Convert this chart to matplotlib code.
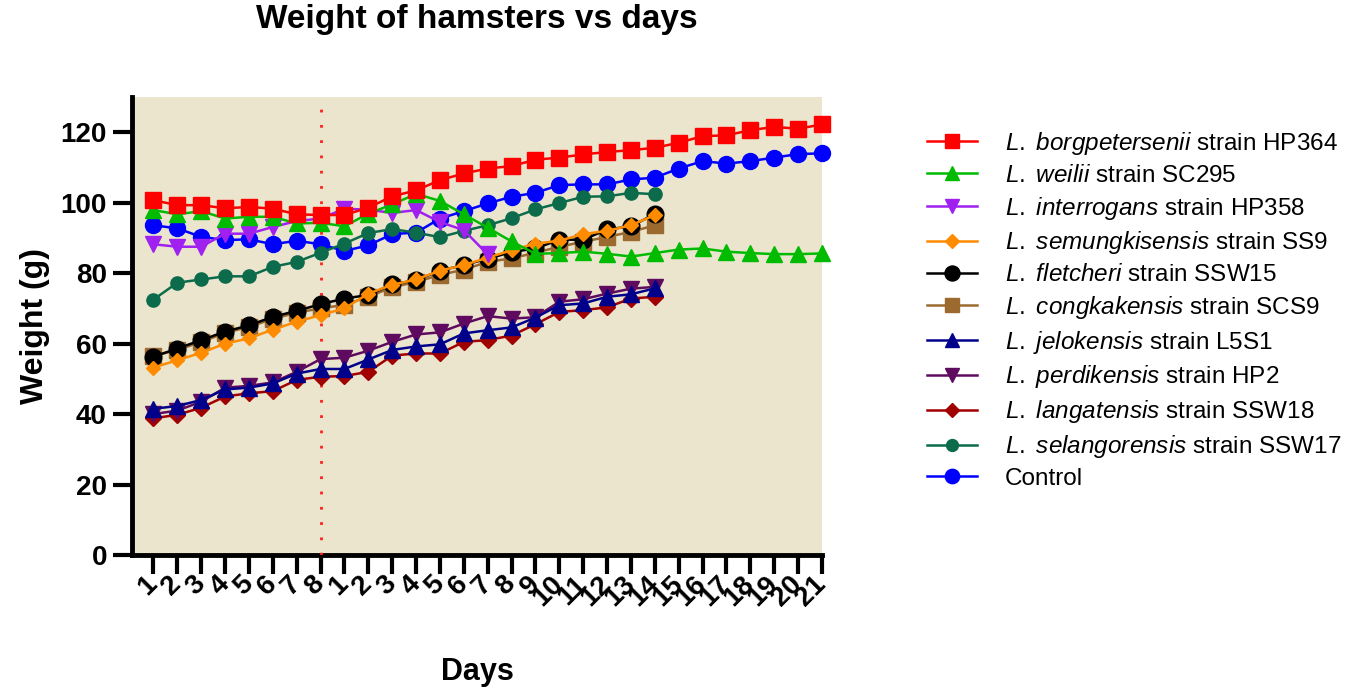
import matplotlib
matplotlib.use('Agg')
import matplotlib.pyplot as plt

plt.rcParams['font.family'] = ['Liberation Sans', 'DejaVu Sans']
plt.rcParams['mathtext.fontset'] = 'custom'
plt.rcParams['mathtext.it'] = 'Liberation Sans:italic'
plt.rcParams['mathtext.rm'] = 'Liberation Sans'

# ---------------- data ----------------
tick_labels = ['1', '2', '3', '4', '5', '6', '7', '8',
               '1', '2', '3', '4', '5', '6', '7', '8', '9', '10', '11', '12',
               '13', '14', '15', '16', '17', '18', '19', '20', '21']
positions = list(range(1, len(tick_labels) + 1))
infection_pos = 8

borgpetersenii = [100.7, 99.3, 99.3, 98.4, 98.8, 98.3, 96.7, 96.5, 96.5, 98.6,
                  101.8, 103.5, 106.4, 108.3, 109.7, 110.4, 112.2, 112.8, 113.7,
                  114.4, 114.9, 115.6, 117.0, 118.9, 119.1, 120.6, 121.5, 121.0, 122.2]
weilii = [97.9, 96.7, 97.6, 95.5, 96.0, 96.0, 94.1, 94.3, 93.3, 96.9,
          99.5, 102.5, 100.5, 96.7, 92.9, 89.0, 85.5, 85.7, 86.1, 85.5,
          84.7, 85.7, 86.7, 87.0, 86.1, 85.7, 85.4, 85.4, 85.6]
interrogans = [88.2, 87.5, 87.5, 91.2, 91.2, 93.1, 94.8, 95.5, 98.3, 98.0,
               97.1, 97.9, 94.5, 92.2, 85.3]
semungkisensis = [53.2, 55.3, 57.4, 60.0, 61.5, 64.0, 66.2, 68.1, 70.0, 74.2,
                  76.7, 78.2, 80.7, 82.3, 84.4, 86.5, 88.4, 89.2, 91.1, 92.0, 93.6, 96.5]
fletcheri = [56.3, 58.6, 61.0, 63.4, 65.2, 67.6, 69.3, 71.2, 72.8, 73.8,
             76.8, 78.0, 80.7, 82.3, 84.1, 86.0, 87.0, 89.5, 89.5, 92.4, 93.3, 96.8]
congkakensis = [56.5, 58.2, 60.5, 63.0, 64.8, 67.0, 68.8, 70.0, 71.0, 73.3,
                76.0, 77.5, 79.5, 81.0, 83.2, 84.2, 85.8, 87.5, 88.9, 90.3, 91.7, 93.6]
jelokensis = [41.5, 42.3, 44.0, 47.0, 47.5, 48.7, 51.5, 52.8, 52.8, 55.5,
              58.2, 59.2, 59.8, 62.9, 63.8, 64.6, 67.4, 70.9, 71.4, 73.3, 74.0, 75.7]
perdikensis = [40.0, 41.0, 43.5, 47.5, 48.0, 49.0, 52.0, 55.6, 56.0, 58.0,
               60.5, 62.6, 63.2, 65.7, 67.8, 67.1, 67.5, 71.9, 72.6, 74.2, 75.6, 76.1]
langatensis = [38.8, 39.8, 41.8, 45.0, 45.9, 46.5, 49.7, 50.6, 50.8, 52.0,
               56.6, 57.2, 57.2, 60.5, 61.0, 62.3, 65.5, 69.0, 69.5, 70.3, 72.8, 73.3]
selangorensis = [72.5, 77.3, 78.2, 79.1, 79.1, 81.8, 83.2, 85.8, 88.4, 91.4,
                 92.5, 91.5, 90.2, 92.0, 93.6, 95.6, 98.1, 99.9, 101.7, 101.8, 102.8, 102.4]
control = [93.6, 92.7, 90.3, 89.4, 89.6, 88.2, 89.2, 88.2, 86.3, 87.9,
           91.1, 91.5, 95.5, 97.6, 99.8, 101.7, 102.8, 105.0, 105.2, 105.2,
           106.6, 107.1, 109.7, 111.8, 111.1, 111.8, 112.8, 113.8, 114.0]

series = [
    (r'$\mathit{L.\ borgpetersenii}$ strain HP364', borgpetersenii, '#FF0000', 's', 11),
    (r'$\mathit{L.\ weilii}$ strain SC295', weilii, '#00BB00', '^', 11),
    (r'$\mathit{L.\ interrogans}$ strain HP358', interrogans, '#A020F0', 'v', 11),
    (r'$\mathit{L.\ semungkisensis}$ strain SS9', semungkisensis, '#FF8C00', 'D', 7.5),
    (r'$\mathit{L.\ fletcheri}$ strain SSW15', fletcheri, '#000000', 'o', 12),
    (r'$\mathit{L.\ congkakensis}$ strain SCS9', congkakensis, '#9C6A2E', 's', 11),
    (r'$\mathit{L.\ jelokensis}$ strain L5S1', jelokensis, '#00008B', '^', 11),
    (r'$\mathit{L.\ perdikensis}$ strain HP2', perdikensis, '#5E0A5E', 'v', 11),
    (r'$\mathit{L.\ langatensis}$ strain SSW18', langatensis, '#A00000', 'D', 8),
    (r'$\mathit{L.\ selangorensis}$ strain SSW17', selangorensis, '#0B6B4B', 'o', 9.5),
    ('Control', control, '#0000FF', 'o', 11.5),
]

# ---------------- figure ----------------
W, H = 1355, 697
fig = plt.figure(figsize=(W / 100, H / 100), dpi=100)
ax = fig.add_axes([132 / W, 1 - 555 / H, (822 - 132) / W, (555 - 97) / H])
ax.set_facecolor('#EBE5CE')

n = len(series)
for k, (label, vals, color, marker, ms) in enumerate(series):
    ax.plot(positions[:len(vals)], vals, color=color, marker=marker, markersize=ms,
            linewidth=1.8, label=label, zorder=10 + (n - k), clip_on=False)

ax.axvline(infection_pos, ymin=0, ymax=127 / 130, color='#FF2020', linewidth=2,
           linestyle=(0, (1, 4.5)), zorder=5)

ax.set_xlim(0.1, 29)
ax.set_ylim(0, 130)
ax.set_xticks(positions)
ax.set_xticklabels(tick_labels)
ax.set_yticks([0, 20, 40, 60, 80, 100, 120])

for s in ['top', 'right']:
    ax.spines[s].set_visible(False)
for s in ['left', 'bottom']:
    ax.spines[s].set_linewidth(3.5)

ax.tick_params(axis='both', direction='out', length=14, width=3, labelsize=20, pad=4)
for t in ax.get_yticklabels() + ax.get_xticklabels():
    t.set_fontweight('bold')
plt.setp(ax.get_xticklabels(), rotation=45, ha='right', va='center',
         rotation_mode='anchor')

ax.set_xlabel('Days', fontsize=22, fontweight='bold', labelpad=33)
ax.set_ylabel('Weight (g)', fontsize=23, fontweight='bold', labelpad=8)
ax.set_title('Weight of hamsters vs days', fontsize=24, fontweight='bold', pad=50)

handles, labels = ax.get_legend_handles_labels()
fig.legend(handles, labels, loc='upper left', bbox_to_anchor=(927 / W, 1 - 130 / H),
           frameon=False, fontsize=17.5, handlelength=2.06, handletextpad=1.15,
           labelspacing=0.32, borderpad=0, borderaxespad=0, markerscale=0.9)

fig.savefig('out.png', dpi=100)
